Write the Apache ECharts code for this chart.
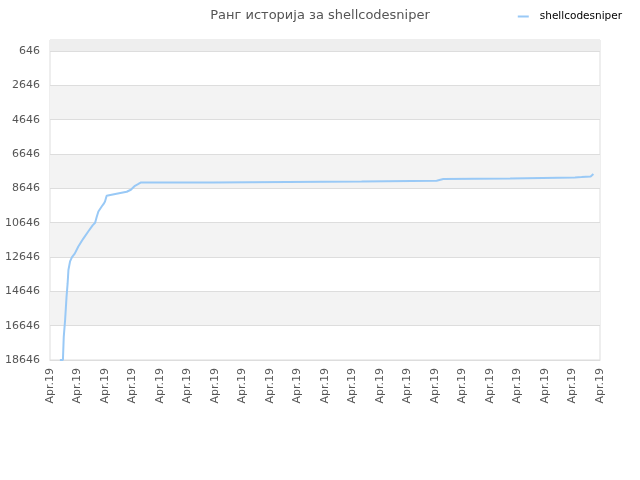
<!DOCTYPE html>
<html><head><meta charset="utf-8">
<script src="https://cdn.jsdelivr.net/npm/echarts@6/dist/echarts.min.js"></script>
<style>html,body{margin:0;padding:0;background:#fff}#c{width:640px;height:480px}</style>
</head><body><div id="c"></div>
<script>
var seriesName = 'shellcodesniper';
var titleText = 'Ранг историја за shellcodesniper';
var xTickLabel = 'Apr.19';
var xPos = [0.36,0.47,0.50,0.55,0.60,0.64,0.67,0.73,0.80,0.90,1.03,1.20,1.39,1.55,1.64,1.70,1.76,1.88,1.95,2.00,2.06,2.42,2.79,2.94,3.09,3.20,3.31,5.93,5.93,11.33,11.33,14.06,14.06,14.30,14.30,16.73,16.73,19.09,19.09,19.33,19.33,19.66,19.66,19.76];
var ranks = [18646,18646,17300,16300,15000,14200,13400,12900,12650,12450,12036,11600,11161,10800,10653,10300,9994,9702,9550,9410,9078,8961,8844,8727,8494,8400,8301,8301,8243,8243,8202,8202,8103,8103,8068,8068,8010,8010,7990,7990,7951,7951,7893,7812];
var rankTicks = [646,2646,4646,6646,8646,10646,12646,14646,16646,18646];
var rankTop = 1;
var rankBottom = 18646;

var data = xPos.map(function(x,i){ return [x, ranks[i]]; });
var bands = [[{yAxis:rankTop,itemStyle:{color:'#eeeeee'}},{yAxis:rankTicks[0]}]];
for (var i = 1; i + 1 < rankTicks.length; i += 2) {
  bands.push([{yAxis:rankTicks[i],itemStyle:{color:'#f3f3f3'}},{yAxis:rankTicks[i+1]}]);
}
var lines = rankTicks.map(function(v){ return {yAxis:v}; });

var chart = echarts.init(document.getElementById('c'));
chart.setOption({
  animation:false,
  title:{text:titleText,left:'center',top:4,textStyle:{fontFamily:'DejaVu Sans',fontSize:13,fontWeight:'normal',color:'#555'}},
  legend:{right:13,top:6,itemWidth:11,itemHeight:2,itemGap:10,icon:'rect',textStyle:{fontFamily:'DejaVu Sans',fontSize:10.5,color:'#000',padding:[0,0,0,6]},data:[seriesName]},
  grid:{left:50,right:40,top:40,bottom:120,show:true,borderColor:'#ddd',borderWidth:1,backgroundColor:'transparent'},
  xAxis:{type:'value',min:0,max:20,interval:1,
    axisLine:{show:true,lineStyle:{color:'#ddd'}},axisTick:{show:false},splitLine:{show:false},
    axisLabel:{rotate:90,color:'#555',fontFamily:'DejaVu Sans',fontSize:11,margin:8,formatter:function(){return xTickLabel;},showMinLabel:true,showMaxLabel:true}},
  yAxis:{type:'value',inverse:true,min:rankTop,max:rankBottom,
    axisLine:{show:false},axisTick:{show:false},
    splitLine:{show:false},splitArea:{show:false},
    axisLabel:{color:'#555',fontFamily:'DejaVu Sans',fontSize:11,margin:10,customValues:rankTicks,showMinLabel:true,showMaxLabel:true,formatter:function(v){return String(v);}}},
  series:[{name:seriesName,type:'line',data:data,symbol:'none',z:3,
    lineStyle:{color:'#99c9f6',width:2},itemStyle:{color:'#99c9f6'},
    markArea:{silent:true,z:1,data:bands},
    markLine:{silent:true,symbol:'none',label:{show:false},lineStyle:{color:'#ddd',type:'solid',width:1},data:lines,z:1}
  }]
});
</script></body></html>
